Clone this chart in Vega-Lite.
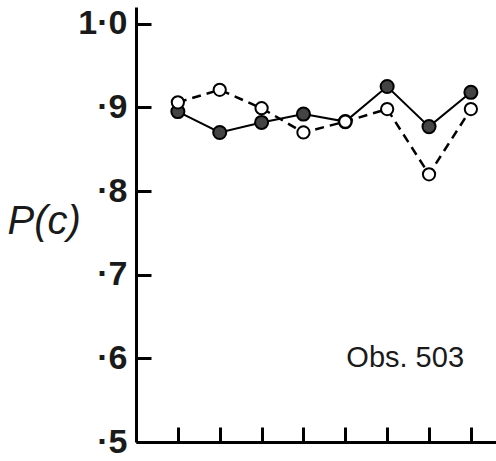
{
  "$schema": "https://vega.github.io/schema/vega-lite/v6.json",
  "width": 360,
  "height": 435,
  "autosize": "none",
  "padding": {"left": 136, "top": 7, "right": 0, "bottom": 19},
  "background": "white",
  "config": {"view": {"stroke": null}},
  "datasets": {
    "pts": [
      {"pos": 1, "p": 0.895, "series": "filled"},
      {"pos": 2, "p": 0.870, "series": "filled"},
      {"pos": 3, "p": 0.882, "series": "filled"},
      {"pos": 4, "p": 0.892, "series": "filled"},
      {"pos": 5, "p": 0.883, "series": "filled"},
      {"pos": 6, "p": 0.925, "series": "filled"},
      {"pos": 7, "p": 0.877, "series": "filled"},
      {"pos": 8, "p": 0.918, "series": "filled"},
      {"pos": 1, "p": 0.906, "series": "open"},
      {"pos": 2, "p": 0.921, "series": "open"},
      {"pos": 3, "p": 0.899, "series": "open"},
      {"pos": 4, "p": 0.870, "series": "open"},
      {"pos": 5, "p": 0.883, "series": "open"},
      {"pos": 6, "p": 0.898, "series": "open"},
      {"pos": 7, "p": 0.820, "series": "open"},
      {"pos": 8, "p": 0.898, "series": "open"}
    ],
    "note": [{"pos": 6.43, "p": 0.6, "label": "Obs. 503"}]
  },
  "data": {"name": "pts"},
  "encoding": {
    "x": {
      "field": "pos", "type": "quantitative",
      "scale": {"domain": [0, 8.6], "nice": false, "zero": false},
      "axis": {
        "values": [1, 2, 3, 4, 5, 6, 7, 8],
        "labels": false, "title": null, "grid": false,
        "domainColor": "black", "domainWidth": 3,
        "tickColor": "black", "tickWidth": 3, "tickSize": -15
      }
    },
    "y": {
      "field": "p", "type": "quantitative",
      "scale": {"domain": [0.5, 1.02], "nice": false, "zero": false},
      "axis": {
        "values": [0.5, 0.6, 0.7, 0.8, 0.9, 1.0],
        "labelExpr": "datum.value >= 0.99 ? '1·0' : '·' + round(datum.value * 10)",
        "labelFont": "Liberation Sans", "labelFontWeight": "bold", "labelFontSize": 34,
        "labelColor": "#1a1a1a", "labelPadding": 24,
        "labelBaseline": "middle",
        "grid": false,
        "domainColor": "black", "domainWidth": 3,
        "tickColor": "black", "tickWidth": 3, "tickSize": -15,
        "title": "P(c)", "titleAngle": 0, "titleFont": "Liberation Sans",
        "titleFontStyle": "italic", "titleFontWeight": "normal", "titleFontSize": 40,
        "titleColor": "#1a1a1a",
        "titleX": -129, "titleY": 214, "titleAlign": "left", "titleBaseline": "middle"
      }
    }
  },
  "layer": [
    {
      "transform": [{"filter": "datum.series === 'filled'"}],
      "mark": {"type": "line", "color": "black", "strokeWidth": 2}
    },
    {
      "transform": [{"filter": "datum.series === 'open'"}],
      "mark": {"type": "line", "color": "black", "strokeWidth": 2.5, "strokeDash": [9, 6]}
    },
    {
      "transform": [{"filter": "datum.series === 'filled'"}],
      "mark": {"type": "point", "shape": "circle", "size": 170, "filled": true, "fill": "#444444", "stroke": "black", "strokeWidth": 2, "opacity": 1}
    },
    {
      "transform": [{"filter": "datum.series === 'open'"}],
      "mark": {"type": "point", "shape": "circle", "size": 150, "filled": true, "fill": "white", "stroke": "black", "strokeWidth": 2, "opacity": 1}
    },
    {
      "data": {"name": "note"},
      "mark": {"type": "text", "font": "Liberation Sans", "fontSize": 29, "color": "#1a1a1a", "align": "center", "baseline": "middle"},
      "encoding": {"text": {"field": "label"}}
    }
  ]
}
